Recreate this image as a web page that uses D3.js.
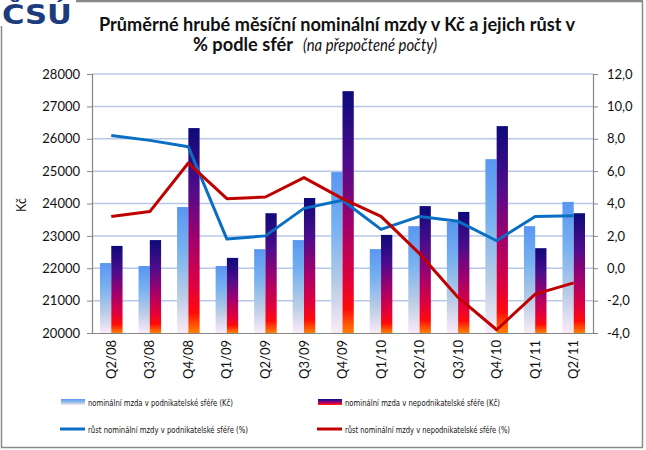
<!DOCTYPE html>
<html><head><meta charset="utf-8">
<script src="https://cdn.jsdelivr.net/npm/d3@7"></script>
<style>body{margin:0;background:#fff}svg{display:block}</style>
</head><body>
<svg id="c" width="646" height="450"></svg>
<script>
const categories = ["Q2/08","Q3/08","Q4/08","Q1/09","Q2/09","Q3/09","Q4/09","Q1/10","Q2/10","Q3/10","Q4/10","Q1/11","Q2/11"];
const wageBusiness = [22160,22070,23890,22070,22590,22870,24970,22590,23300,23430,25370,23300,24050];
const wageNonBusiness = [22690,22870,26330,22320,23700,24170,27470,23030,23920,23740,26390,22620,23700];
const growthBusiness = [8.2,7.9,7.5,1.8,2.0,3.7,4.2,2.4,3.2,2.9,1.7,3.2,3.25];
const growthNonBusiness = [3.2,3.5,6.5,4.3,4.4,5.6,4.3,3.2,0.9,-1.8,-3.8,-1.6,-0.9];
const leftTicks = [20000,21000,22000,23000,24000,25000,26000,27000,28000];
const rightTicks = [-4,-2,0,2,4,6,8,10,12];
const legendLabels = ["nominální mzda v podnikatelské sféře (Kč)","nominální mzda v nepodnikatelské sféře (Kč)","růst nominální mzdy v podnikatelské sféře (%)","růst nominální mzdy v nepodnikatelské  sféře (%)"];

const svg = d3.select("#c");
const L = 92, R = 593, T = 74, B = 333;
const font = "Lato, 'Open Sans', sans-serif";

// frame
svg.append("rect").attr("x",1.5).attr("y",1.5).attr("width",641).attr("height",446)
  .attr("fill","#fff").attr("stroke","#8a8a8a").attr("stroke-width",1.5);
svg.append("line").attr("x1",1).attr("x2",643).attr("y1",1).attr("y2",1).attr("stroke","#888").attr("stroke-width",2);

const defs = svg.append("defs");
const lg = defs.append("linearGradient").attr("id","gl").attr("x1",0).attr("x2",0).attr("y1",0).attr("y2",1);
[[0,"#5996f2"],[0.35,"#78b2f0"],[0.7,"#b9cce6"],[1,"#faeaf8"]].forEach(s=>lg.append("stop").attr("offset",s[0]).attr("stop-color",s[1]));
const dg = defs.append("linearGradient").attr("id","gd").attr("x1",0).attr("x2",0).attr("y1",0).attr("y2",1);
[[0,"#0d0a7a"],[0.3,"#4f0c8c"],[0.55,"#a2006c"],[0.78,"#e2003c"],[0.9,"#ff0a0a"],[1,"#ff8000"]].forEach(s=>dg.append("stop").attr("offset",s[0]).attr("stop-color",s[1]));

const x = d3.scaleBand().domain(categories).range([L,R]);
const xi = d3.scaleBand().domain(["p","n"]).range([0,x.bandwidth()]).paddingOuter(0.71);
const yL = d3.scaleLinear().domain([20000,28000]).range([B,T]);
const yR = d3.scaleLinear().domain([-4,12]).range([B,T]);

// gridlines
svg.append("g").selectAll("line").data(leftTicks.slice(1)).join("line")
  .attr("x1",L).attr("x2",R).attr("y1",d=>yL(d)).attr("y2",d=>yL(d))
  .attr("stroke","#b7c8e8").attr("stroke-width",1.5);

// bars
const g = svg.append("g");
g.selectAll(".bp").data(wageBusiness).join("rect")
  .attr("x",(d,i)=>x(categories[i])+xi("p")).attr("width",xi.bandwidth())
  .attr("y",d=>yL(d)).attr("height",d=>B-yL(d)).attr("fill","url(#gl)");
g.selectAll(".bn").data(wageNonBusiness).join("rect")
  .attr("x",(d,i)=>x(categories[i])+xi("n")).attr("width",xi.bandwidth())
  .attr("y",d=>yL(d)).attr("height",d=>B-yL(d)).attr("fill","url(#gd)");

// lines
const cx = i => x(categories[i]) + x.bandwidth()/2;
const line = d3.line().x((d,i)=>cx(i)).y(d=>yR(d));
svg.append("path").datum(growthBusiness).attr("d",line).attr("fill","none")
  .attr("stroke","#0a6fc2").attr("stroke-width",3).attr("stroke-linejoin","round");
svg.append("path").datum(growthNonBusiness).attr("d",line).attr("fill","none")
  .attr("stroke","#c00000").attr("stroke-width",3).attr("stroke-linejoin","round");

// axes
const axL = svg.append("g").attr("transform",`translate(${L},0)`)
  .call(d3.axisLeft(yL).tickValues(leftTicks).tickSize(5).tickPadding(7).tickFormat(d3.format("d")));
const axR = svg.append("g").attr("transform",`translate(${R},0)`)
  .call(d3.axisRight(yR).tickValues(rightTicks).tickSize(5).tickPadding(9).tickFormat(d=>(d<0?"-":"")+Math.abs(d).toFixed(1).replace(".",",")));
const axB = svg.append("g").attr("transform",`translate(0,${B})`)
  .call(d3.axisBottom(x).tickSize(0).tickPadding(8));
axB.selectAll("text").attr("transform","rotate(-90)").attr("text-anchor","end")
  .attr("x",-7).attr("y",0).attr("dy","0.35em");
[axL,axR,axB].forEach(a=>{
  a.select(".domain").attr("stroke","#868686").attr("stroke-width",1.2);
  a.selectAll(".tick line").attr("stroke","#868686");
  a.selectAll("text").attr("font-family",font).attr("font-size",13).attr("fill","#111");
});

// y label
svg.append("text").attr("transform","translate(26,205) rotate(-90)").attr("text-anchor","middle")
  .attr("font-family",font).attr("font-size",12.5).attr("fill","#111").text("Kč");

// title
svg.append("text").attr("x",99).attr("y",31).attr("font-family",font).attr("fill","#111")
  .attr("font-weight","bold").attr("font-size",18.5).attr("textLength",476).attr("lengthAdjust","spacingAndGlyphs")
  .text("Průměrné hrubé měsíční nominální mzdy v Kč a jejich růst v");
svg.append("text").attr("x",193).attr("y",51).attr("font-family",font).attr("fill","#111")
  .attr("font-weight","bold").attr("font-size",18.5).attr("textLength",100).attr("lengthAdjust","spacingAndGlyphs")
  .text("% podle sfér");
svg.append("text").attr("x",303).attr("y",51).attr("font-family",font).attr("fill","#111")
  .attr("font-style","italic").attr("font-size",18).attr("textLength",134).attr("lengthAdjust","spacingAndGlyphs")
  .text("(na přepočtené počty)");

// logo
svg.append("rect").attr("x",0).attr("y",0).attr("width",76).attr("height",26).attr("fill","#fff");
svg.append("text").attr("x",2).attr("y",24).attr("font-family","'DejaVu Sans', sans-serif").attr("font-weight","bold")
  .attr("font-size",26).attr("textLength",70).attr("lengthAdjust","spacingAndGlyphs").attr("fill","#1c3c7e").text("ČSÚ");

// legend
const legFont = "'Liberation Sans Narrow', 'DejaVu Sans Condensed', sans-serif";
const legItems = [
  {x:61, y:402, type:"bar", fill:"url(#gl)", w:145},
  {x:318, y:402, type:"bar", fill:"url(#gd)", w:155},
  {x:61, y:429, type:"line", color:"#0a6fc2", w:160},
  {x:318, y:429, type:"line", color:"#c00000", w:165}
];
legItems.forEach((it,i)=>{
  if(it.type==="bar") svg.append("rect").attr("x",it.x).attr("y",it.y-3).attr("width",24).attr("height",6).attr("fill",it.fill);
  else svg.append("line").attr("x1",it.x-1).attr("x2",it.x+24).attr("y1",it.y).attr("y2",it.y).attr("stroke",it.color).attr("stroke-width",3);
  svg.append("text").attr("x",it.x+27).attr("y",it.y+3.5).attr("font-family",legFont).attr("font-size",9.5)
    .attr("textLength",it.w).attr("lengthAdjust","spacingAndGlyphs").attr("fill","#111").text(legendLabels[i]);
});
</script>
</body></html>
